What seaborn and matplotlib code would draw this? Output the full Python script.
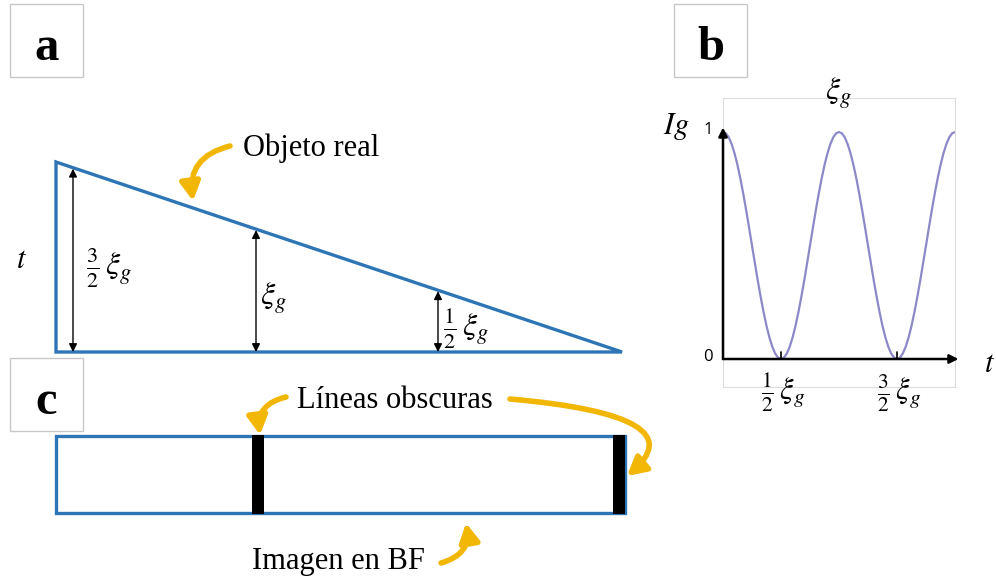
import numpy as np
import pandas as pd
import matplotlib
matplotlib.use("Agg")
import matplotlib.pyplot as plt
import seaborn as sns
from matplotlib.patches import FancyArrowPatch, Rectangle, Polygon

# ---------------- data ----------------
panel_labels = ["a", "b", "c"]

# panel b: intensity Ig versus thickness t (t in units of xi_g)
t_values = [0.000, 0.025, 0.050, 0.075, 0.100, 0.125, 0.150, 0.175, 0.200, 0.225,
            0.250, 0.275, 0.300, 0.325, 0.350, 0.375, 0.400, 0.425, 0.450, 0.475,
            0.500, 0.525, 0.550, 0.575, 0.600, 0.625, 0.650, 0.675, 0.700, 0.725,
            0.750, 0.775, 0.800, 0.825, 0.850, 0.875, 0.900, 0.925, 0.950, 0.975,
            1.000, 1.025, 1.050, 1.075, 1.100, 1.125, 1.150, 1.175, 1.200, 1.225,
            1.250, 1.275, 1.300, 1.325, 1.350, 1.375, 1.400, 1.425, 1.450, 1.475,
            1.500, 1.525, 1.550, 1.575, 1.600, 1.625, 1.650, 1.675, 1.700, 1.725,
            1.750, 1.775, 1.800, 1.825, 1.850, 1.875, 1.900, 1.925, 1.950, 1.975, 2.000]
intensity = [1.000, 0.994, 0.976, 0.946, 0.905, 0.854, 0.794, 0.727, 0.655, 0.578,
             0.500, 0.422, 0.345, 0.273, 0.206, 0.146, 0.095, 0.054, 0.024, 0.006,
             0.000, 0.006, 0.024, 0.054, 0.095, 0.146, 0.206, 0.273, 0.345, 0.422,
             0.500, 0.578, 0.655, 0.727, 0.794, 0.854, 0.905, 0.946, 0.976, 0.994,
             1.000, 0.994, 0.976, 0.946, 0.905, 0.854, 0.794, 0.727, 0.655, 0.578,
             0.500, 0.422, 0.345, 0.273, 0.206, 0.146, 0.095, 0.054, 0.024, 0.006,
             0.000, 0.006, 0.024, 0.054, 0.095, 0.146, 0.206, 0.273, 0.345, 0.422,
             0.500, 0.578, 0.655, 0.727, 0.794, 0.854, 0.905, 0.946, 0.976, 0.994, 1.000]
b_tick_t = [0.5, 1.5]
b_tick_labels = [r"$\frac{1}{2}\,\xi_g$", r"$\frac{3}{2}\,\xi_g$"]
b_y_ticks = [0, 1]

# panel a: wedge thickness markers (units of xi_g)
wedge_max_thickness = 1.5
marker_thickness = [1.5, 1.0, 0.5]
marker_labels = [r"$\frac{3}{2}\,\xi_g$", r"$\xi_g$", r"$\frac{1}{2}\,\xi_g$"]

# panel c: dark fringes where thickness = these values
dark_line_thickness = [1.0, 0.0]

txt_objeto = "Objeto real"
txt_lineas = "Líneas obscuras"
txt_imagen = "Imagen en BF"

# ---------------- style ----------------
sns.set_theme(style="white")
plt.rcParams["font.family"] = ["DejaVu Sans"]
plt.rcParams["mathtext.fontset"] = "stix"
plt.rcParams["text.color"] = "black"

BLUE = "#2E75B6"
GOLD = "#F2B705"
PURPLE = "#8C89C8"
SERIF = "Liberation Serif"

W, H = 996, 583
fig = plt.figure(figsize=(W / 100, H / 100), dpi=100)
ax = fig.add_axes([0, 0, 1, 1])
ax.set_xlim(0, W)
ax.set_ylim(H, 0)
ax.axis("off")

# panel label boxes
for lab, (x0, y0) in zip(panel_labels, [(10, 4), (674, 4), (10, 358)]):
    ax.add_patch(Rectangle((x0, y0), 73, 73, fill=False, ec="#c8c8c8", lw=1))
    ax.text(x0 + 36.5, y0 + 56, lab, fontsize=35, fontweight="bold",
            family=SERIF, ha="center", va="baseline", color="black")

# ---------------- panel a: wedge ----------------
wx0, wx1, wbase = 56, 622, 352
px_per_xi = 190 / wedge_max_thickness
wtop = wbase - wedge_max_thickness * px_per_xi
ax.add_patch(Polygon([(wx0, wtop), (wx0, wbase), (wx1, wbase)], closed=True,
                     fill=False, ec=BLUE, lw=2.4, joinstyle="miter"))

def hyp_y(x):
    return wtop + (x - wx0) / (wx1 - wx0) * (wbase - wtop)

arrow_x = [73, 256, 438]
label_pos = [(86, 268), (260, 298), (443, 328)]
for xa, lab, (lx, ly) in zip(arrow_x, marker_labels, label_pos):
    ax.annotate("", xy=(xa, hyp_y(xa) + 1), xytext=(xa, wbase),
                arrowprops=dict(arrowstyle="<|-|>", color="black", lw=1.0,
                                mutation_scale=12, shrinkA=0, shrinkB=0))
    ax.text(lx, ly, lab, fontsize=23, ha="left", va="center")

ax.text(22, 259, r"$t$", fontsize=22, ha="center", va="center")

ax.text(243, 148, txt_objeto, fontsize=22, family=SERIF, ha="left", va="center")

def gold_arrow(a, b, cs):
    p = FancyArrowPatch(a, b, connectionstyle=cs,
                        arrowstyle="-|>,head_length=11,head_width=6",
                        color=GOLD, lw=4, mutation_scale=1,
                        shrinkA=0, shrinkB=0, joinstyle="round", capstyle="round")
    ax.add_patch(p)

gold_arrow((230, 146), (193, 201), "arc3,rad=0.45")

# ---------------- panel c: BF image ----------------
cy0, cy1 = 436, 513
ax.add_patch(Rectangle((wx0, cy0), 625 - wx0, cy1 - cy0, fill=False, ec=BLUE, lw=2.4))
bar_x = [258, 619]
for th, bx in zip(dark_line_thickness, bar_x):
    ax.add_patch(Rectangle((bx - 6, cy0 - 1), 12, cy1 - cy0 + 2, fc="black", ec="none"))

ax.text(297, 401, txt_lineas, fontsize=22, family=SERIF, ha="left", va="center")
ax.text(252, 562, txt_imagen, fontsize=22, family=SERIF, ha="left", va="center")

gold_arrow((286, 397), (260, 435), "arc3,rad=0.45")
gold_arrow((510, 399), (627, 476), "angle3,angleA=-5,angleB=40")
gold_arrow((441, 563), (466, 523), "arc3,rad=0.45")

# ---------------- panel b: Ig vs t ----------------
bl, br, bt, bb = 723, 955, 98, 387
y0px, y1px = 359, 132
per = y0px - y1px
axb = fig.add_axes([bl / W, (H - bb) / H, (br - bl) / W, (bb - bt) / H])
axb.set_xlim(0, 2)
axb.set_ylim(-(bb - y0px) / per, (y0px - bt) / per)
df = pd.DataFrame({"t": t_values, "Ig": intensity})
sns.lineplot(data=df, x="t", y="Ig", color=PURPLE, lw=1.6, ax=axb)
axb.set_xticks([])
axb.set_yticks([])
axb.set_xlabel("")
axb.set_ylabel("")
axb.patch.set_alpha(0)
for s in axb.spines.values():
    s.set_color("#dcdcdc")
    s.set_linewidth(0.8)

axb.annotate("", xy=(0, 1.02), xytext=(0, 0), annotation_clip=False,
             arrowprops=dict(arrowstyle="-|>", color="black", lw=1.8,
                             mutation_scale=13, shrinkA=0, shrinkB=0))
axb.annotate("", xy=(2.03, 0), xytext=(0, 0), annotation_clip=False,
             arrowprops=dict(arrowstyle="-|>", color="black", lw=1.8,
                             mutation_scale=13, shrinkA=0, shrinkB=0))
for tt, lab in zip(b_tick_t, b_tick_labels):
    axb.plot([tt, tt], [0, 0.03], color="black", lw=1.2)
    axb.text(tt + 0.02, -0.15, lab, fontsize=22, ha="center", va="center", clip_on=False)

for yv in b_y_ticks:
    axb.text(-0.09, yv + 0.01, str(yv), fontsize=12, family="Open Sans",
             ha="right", va="center", clip_on=False)

axb.text(1.0, 1.17, r"$\xi_g$", fontsize=23, ha="center", va="center", clip_on=False)
ax.text(676, 127, r"$Ig$", fontsize=22, ha="center", va="center")
ax.text(990, 364, r"$t$", fontsize=22, ha="center", va="center")

fig.savefig("out.png", dpi=100)
